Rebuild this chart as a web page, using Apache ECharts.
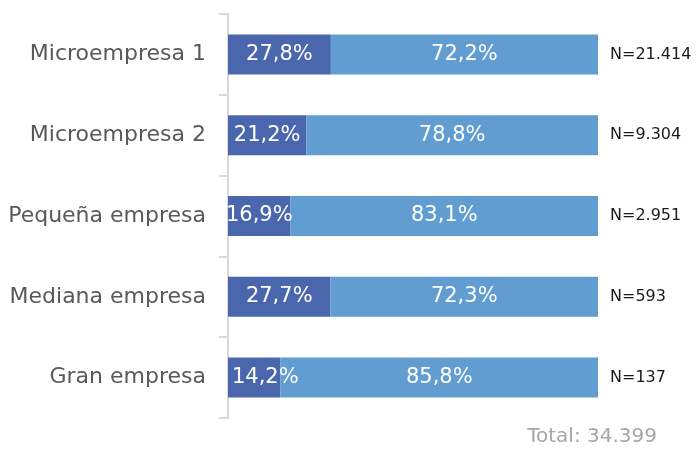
<!DOCTYPE html>
<html>
<head>
<meta charset="utf-8">
<script src="https://cdn.jsdelivr.net/npm/echarts@6/dist/echarts.min.js"></script>
<style>
  html, body { margin: 0; padding: 0; background: #fff; }
  #chart { width: 698px; height: 449px; }
</style>
</head>
<body>
<div id="chart"></div>
<script>
// Company size categories, top to bottom
const categories = ['Microempresa 1', 'Microempresa 2', 'Pequeña empresa', 'Mediana empresa', 'Gran empresa'];
// Share (%) of each group
const shareA = [27.8, 21.2, 16.9, 27.7, 14.2];
const shareB = [72.2, 78.8, 83.1, 72.3, 85.8];
// Number of firms per category
const counts = [21414, 9304, 2951, 593, 137];

const fmtThousands = n => String(n).replace(/\B(?=(\d{3})+(?!\d))/g, '.');
const fmtPct = v => v.toFixed(1).replace('.', ',') + '%';
const total = counts.reduce((a, b) => a + b, 0);
const nLabels = counts.map(c => 'N=' + fmtThousands(c));

const FONT = 'DejaVu Sans';
const PLOT_W = 370;     // width of the plotting area in px
const LABEL_W = 66;     // approx. width of a percentage label

const chart = echarts.init(document.getElementById('chart'), null, { renderer: 'canvas' });

const barLabel = {
  show: true,
  position: 'inside',
  color: '#ffffff',
  fontFamily: FONT,
  fontSize: 21,
  formatter: p => fmtPct(p.value)
};

// Labels of very narrow first segments are nudged right so they stay inside the plot
const firstData = shareA.map(v => {
  const segW = v / 100 * PLOT_W;
  const shift = segW < LABEL_W - 10 ? Math.round((LABEL_W - segW) / 2 + 4) : 0;
  return shift ? { value: v, label: { offset: [shift, 0] } } : v;
});

chart.setOption({
  animation: false,
  textStyle: { fontFamily: FONT },
  grid: { left: 228, right: 100, top: 14, bottom: 31 },
  xAxis: { type: 'value', min: 0, max: 100, show: false },
  yAxis: [
    {
      type: 'category',
      data: categories,
      inverse: true,
      axisLine: { show: true, lineStyle: { color: '#d9d9d9', width: 2 } },
      axisTick: { show: true, length: 9, lineStyle: { color: '#d9d9d9', width: 2 } },
      axisLabel: { color: '#595959', fontSize: 22, fontFamily: FONT, margin: 22 }
    },
    {
      type: 'category',
      data: nLabels,
      inverse: true,
      position: 'right',
      axisLine: { show: false },
      axisTick: { show: false },
      axisLabel: { color: '#1a1a1a', fontSize: 16, fontFamily: FONT, margin: 12, padding: [0, 0, 4, 0] }
    }
  ],
  series: [
    {
      type: 'bar', stack: 'total', data: firstData, barWidth: 40,
      itemStyle: { color: '#4A66AC' }, label: barLabel
    },
    {
      type: 'bar', stack: 'total', data: shareB, barWidth: 40,
      itemStyle: { color: '#629DD1' }, label: barLabel
    }
  ],
  graphic: [
    {
      type: 'text', right: 41, top: 427,
      style: { text: 'Total: ' + fmtThousands(total), fill: '#a6a6a6', font: '20px "DejaVu Sans"' }
    }
  ]
});
</script>
</body>
</html>
